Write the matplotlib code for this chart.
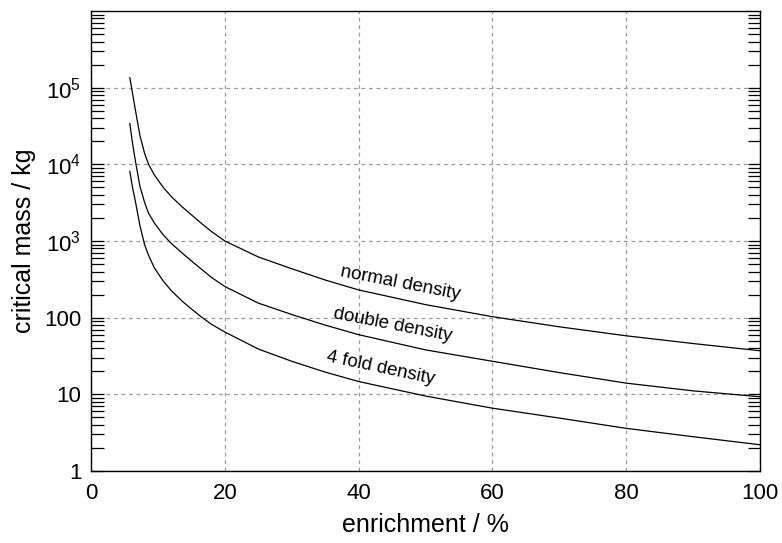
import numpy as np
import matplotlib
matplotlib.use('Agg')
import matplotlib.pyplot as plt
from matplotlib.ticker import FixedLocator, LogLocator, NullFormatter

plt.rcParams['font.family'] = ['Liberation Sans', 'DejaVu Sans']

# enrichment in percent
enrichment = [5.8, 6.2, 6.6, 7.3, 8.0, 8.6, 9.5, 10.8, 12, 13.6, 15, 16.5, 18, 20,
              25, 30, 35, 40, 50, 60, 70, 80, 90, 100]

# critical mass in kg
normal_density = [1.35e5, 8.5e4, 5.3e4, 2.4e4, 1.4e4, 1e4, 7.2e3, 5.0e3, 3.8e3, 2.8e3,
                  2.2e3, 1.7e3, 1.33e3, 1000, 620, 435, 310, 230, 148, 103, 76, 58, 46, 37]
double_density = [3.4e4, 1.9e4, 1.15e4, 5.2e3, 3.2e3, 2.3e3, 1.7e3, 1.2e3, 930, 700,
                  550, 430, 335, 255, 155, 110, 80, 60, 38, 27, 19.2, 14, 11.1, 9.3]
fourfold_density = [8.1e3, 5e3, 3.4e3, 1.6e3, 900, 650, 440, 300, 225, 165,
                    130, 102, 82, 65, 39, 27, 19.5, 14.7, 9.5, 6.6, 4.9, 3.6, 2.8, 2.2]

ytick_vals = [1, 10, 100, 1e3, 1e4, 1e5]
ytick_labels = ['1', '10', '100', r'$\mathregular{10^3}$', r'$\mathregular{10^4}$', r'$\mathregular{10^5}$']
xtick_vals = [0, 20, 40, 60, 80, 100]

fig = plt.figure(figsize=(7.82, 5.43), dpi=100)
ax = fig.add_axes([0.1164, 0.1326, 0.8555, 0.8471])

for ys in (normal_density, double_density, fourfold_density):
    ax.plot(enrichment, ys, color='black', linewidth=0.9)

ax.set_yscale('log')
ax.set_xlim(0, 100)
ax.set_ylim(1, 1e6)

ax.yaxis.set_major_locator(FixedLocator(ytick_vals))
ax.set_yticklabels(ytick_labels)
ax.yaxis.set_minor_locator(LogLocator(base=10, subs=np.arange(2, 10), numticks=20))
ax.yaxis.set_minor_formatter(NullFormatter())
ax.set_xticks(xtick_vals)

ax.tick_params(axis='y', which='both', direction='in', left=True, right=True,
               length=9, width=0.9, labelsize=16, pad=7)
ax.tick_params(axis='x', which='both', length=0, labelsize=16, pad=9)

ax.grid(True, which='major', color='#9a9a9a', linestyle=(0, (3, 3)), linewidth=0.9)
ax.set_axisbelow(True)

for s in ax.spines.values():
    s.set_linewidth(1.0)

ax.set_xlabel('enrichment / %', fontsize=18, labelpad=6)
ax.set_ylabel('critical mass / kg', fontsize=18, labelpad=6)

ax.text(46.2, 285, 'normal density', fontsize=13.5, rotation=-11,
        ha='center', va='center', rotation_mode='anchor')
ax.text(45.1, 80.5, 'double density', fontsize=13.5, rotation=-11,
        ha='center', va='center', rotation_mode='anchor')
ax.text(43.3, 22.1, '4 fold density', fontsize=13.5, rotation=-12,
        ha='center', va='center', rotation_mode='anchor')

fig.savefig('out.png', dpi=100)
